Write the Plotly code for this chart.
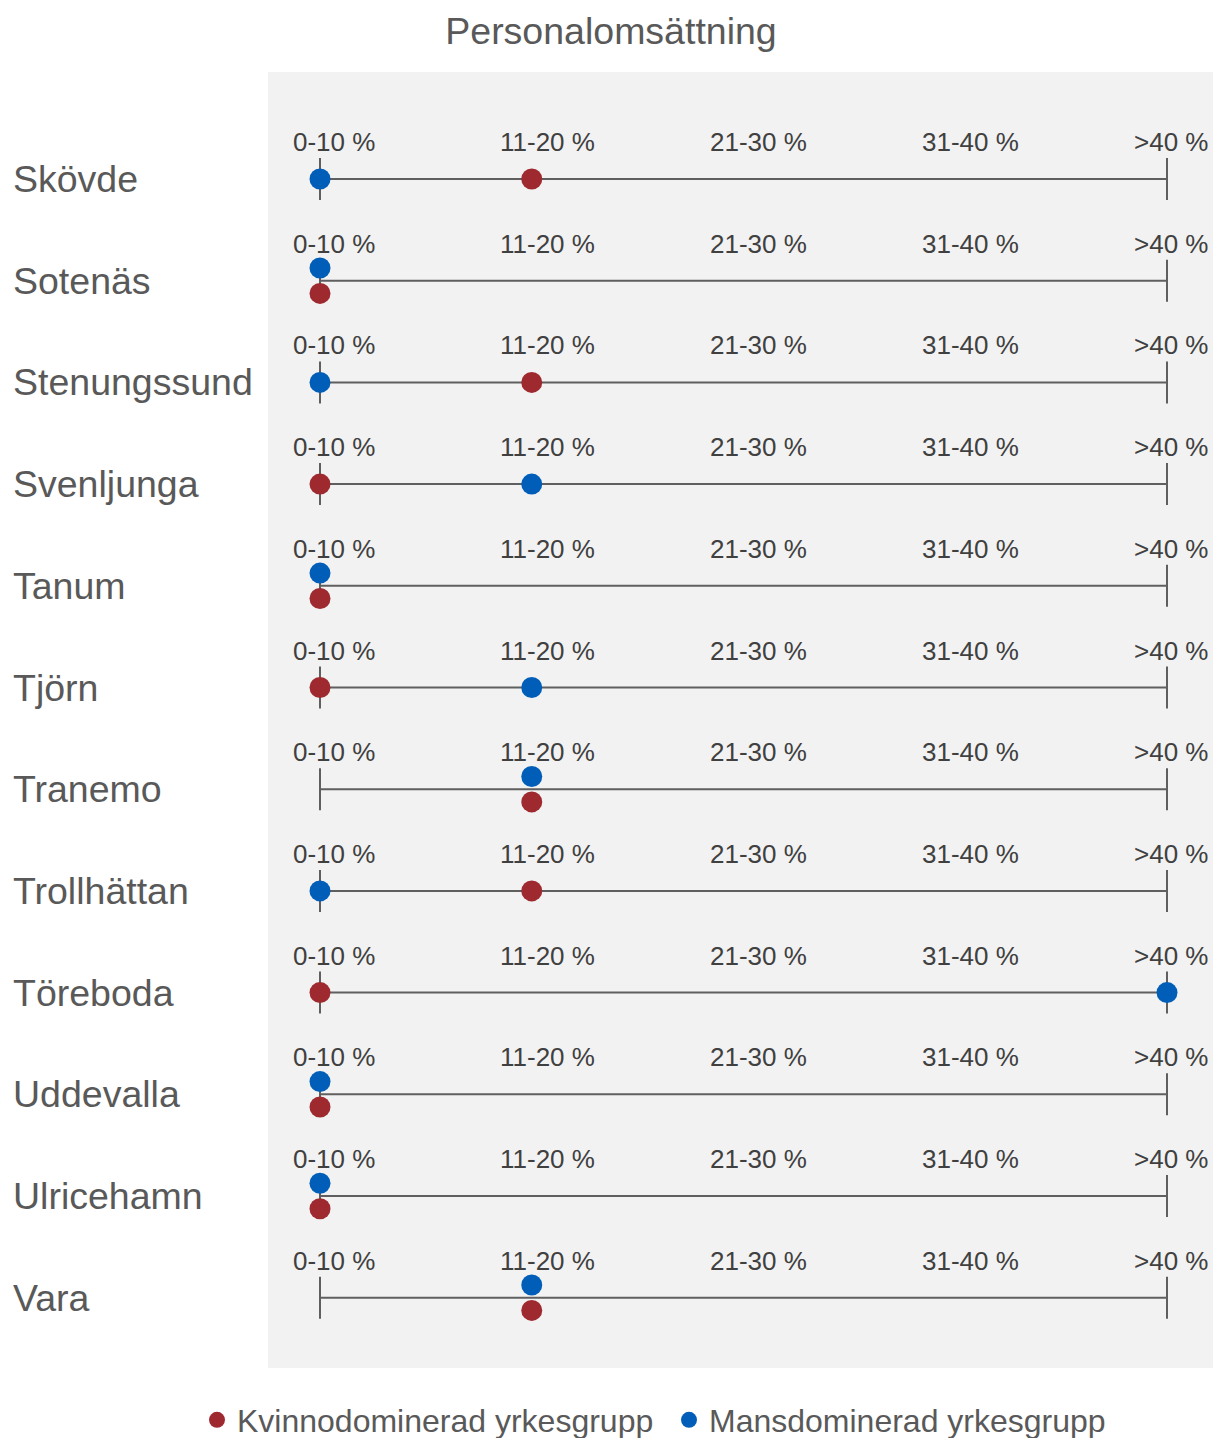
import plotly.graph_objects as go

# ---------------- data ----------------
municipalities = ["Skövde", "Sotenäs", "Stenungssund", "Svenljunga", "Tanum", "Tjörn",
                  "Tranemo", "Trollhättan", "Töreboda", "Uddevalla", "Ulricehamn", "Vara"]
categories = ["0-10 %", "11-20 %", "21-30 %", "31-40 %", ">40 %"]
kvinnodominerad = ["11-20 %", "0-10 %", "11-20 %", "0-10 %", "0-10 %", "0-10 %",
                   "11-20 %", "11-20 %", "0-10 %", "0-10 %", "0-10 %", "11-20 %"]
mansdominerad = ["0-10 %", "0-10 %", "0-10 %", "11-20 %", "0-10 %", "11-20 %",
                 "11-20 %", "0-10 %", ">40 %", "0-10 %", "0-10 %", "11-20 %"]
series_names = ["Kvinnodominerad yrkesgrupp", "Mansdominerad yrkesgrupp"]
title_text = "Personalomsättning"

# ---------------- style ----------------
RED = "#9E292F"
BLUE = "#005EB8"
LINE = "#5F5F5F"
TEXT = "#595959"
TICKTXT = "#404040"
FONT = "Arial, Liberation Sans, sans-serif"
W, H = 1225, 1438
ML, MR, MT, MB = 268, 12, 72, 70
DODGE = 0.125

cat_idx = {c: i for i, c in enumerate(categories)}
n = len(municipalities)
last = len(categories) - 1

fig = go.Figure()

# base lines
lx, ly = [], []
for r in range(n):
    lx += [0, last, None]
    ly += [r, r, None]
fig.add_trace(go.Scatter(x=lx, y=ly, mode="lines", line=dict(color=LINE, width=2),
                         hoverinfo="skip", showlegend=False))
# end ticks
tx, ty = [], []
for r in range(n):
    tx += [0, last]
    ty += [r, r]
fig.add_trace(go.Scatter(x=tx, y=ty, mode="markers",
                         marker=dict(symbol="line-ns", size=30, line=dict(color=LINE, width=2)),
                         hoverinfo="skip", showlegend=False))

# points
kx, ky, mx, my = [], [], [], []
for r in range(n):
    k = cat_idx[kvinnodominerad[r]]
    m = cat_idx[mansdominerad[r]]
    same = (k == m)
    kx.append(k); ky.append(r + (DODGE if same else 0))
    mx.append(m); my.append(r - (DODGE if same else 0))

fig.add_trace(go.Scatter(x=kx, y=ky, mode="markers", name=series_names[0], legend="legend",
                         marker=dict(color=RED, size=21), hoverinfo="skip"))
fig.add_trace(go.Scatter(x=mx, y=my, mode="markers", name=series_names[1], legend="legend2",
                         marker=dict(color=BLUE, size=21), hoverinfo="skip"))

# axis geometry: category 0 -> px 320, last -> px 1167; row 0 -> px 179, row pitch 101.7
px_per_x = (1167 - 320) / last
x0 = -(320 - ML) / px_per_x
x1 = last + (W - MR - 1167) / px_per_x
pitch = 101.7
y_top = -(179 - MT) / pitch
y_bot = (H - MB - 179) / pitch

annotations = []
tick_shift = [14, 16, 15, 15, 4]
for r in range(n):
    for j, c in enumerate(categories):
        annotations.append(dict(x=j, y=r, xref="x", yref="y", text=c, showarrow=False,
                                xanchor="center", yanchor="middle", yshift=37,
                                xshift=tick_shift[j],
                                font=dict(family=FONT, size=26, color=TICKTXT)))
    annotations.append(dict(x=(11 - ML) / (W - ML - MR), y=r, xref="paper", yref="y",
                            text=municipalities[r], showarrow=False,
                            xanchor="left", yanchor="middle",
                            font=dict(family=FONT, size=37.5, color=TEXT)))

legend_common = dict(orientation="h", xanchor="left", xref="container",
                     y=1 - 1420 / H, yanchor="middle", yref="container",
                     font=dict(family=FONT, size=32, color=TEXT),
                     bgcolor="rgba(0,0,0,0)", itemclick=False, itemdoubleclick=False)

fig.update_layout(
    width=W, height=H,
    margin=dict(l=ML, r=MR, t=MT, b=MB),
    paper_bgcolor="white", plot_bgcolor="#F2F2F2",
    title=dict(text=title_text, x=611 / W, xanchor="center", xref="container",
               y=1 - 31 / H, yanchor="middle", yref="container",
               font=dict(family=FONT, size=37.5, color=TEXT)),
    xaxis=dict(range=[x0, x1], visible=False, fixedrange=True),
    yaxis=dict(range=[y_bot, y_top], visible=False, fixedrange=True),
    annotations=annotations,
    showlegend=True,
    legend=dict(x=197 / W, **legend_common),
    legend2=dict(x=669 / W, **legend_common),
    hovermode=False,
)

fig.write_html("out.html", config={"displayModeBar": False},
               post_script="document.body.style.margin='0';document.body.style.overflow='hidden';")
